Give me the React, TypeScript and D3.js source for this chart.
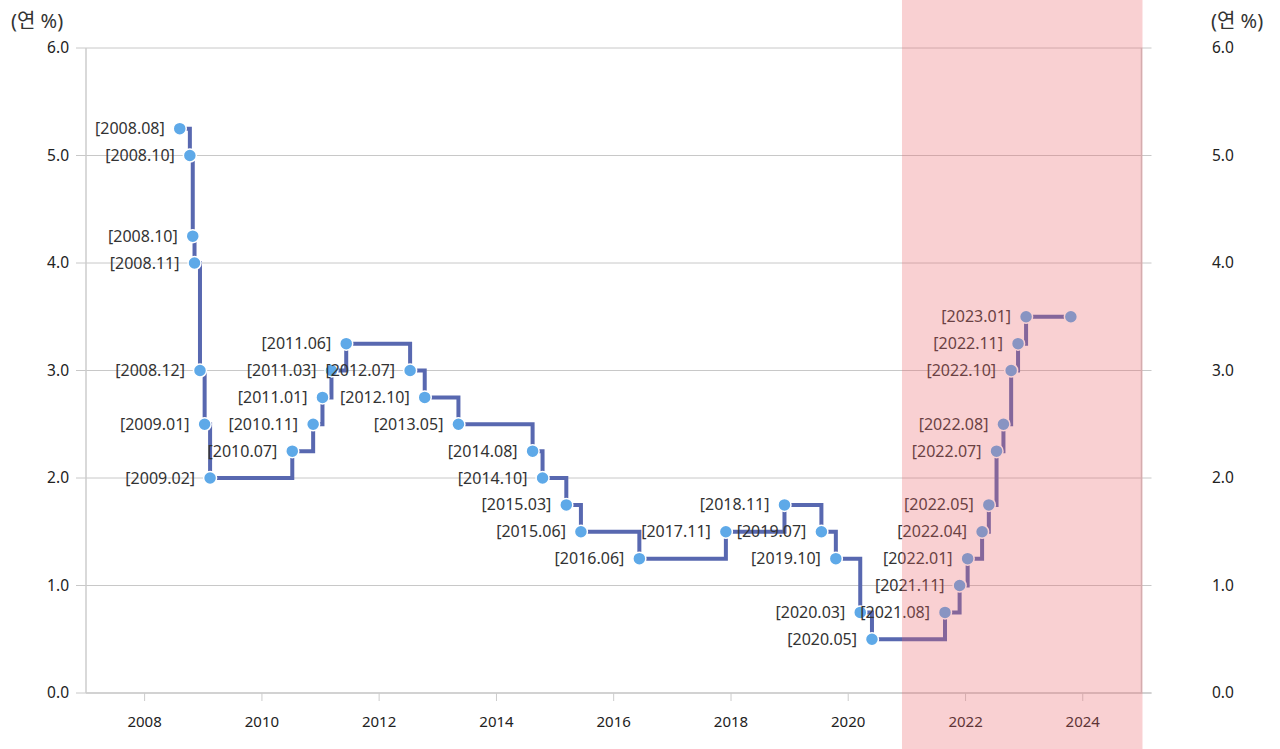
import React from "react"
import * as d3 from "d3"

// 기준금리 변경일 / 금리(연 %)
const changeDates = [
  "2008-08-07", "2008-10-09", "2008-10-27", "2008-11-07", "2008-12-11",
  "2009-01-09", "2009-02-12", "2010-07-09", "2010-11-16", "2011-01-13",
  "2011-03-10", "2011-06-10", "2012-07-12", "2012-10-11", "2013-05-09",
  "2014-08-14", "2014-10-15", "2015-03-12", "2015-06-11", "2016-06-09",
  "2017-11-30", "2018-11-30", "2019-07-18", "2019-10-16", "2020-03-16",
  "2020-05-28", "2021-08-26", "2021-11-25", "2022-01-14", "2022-04-14",
  "2022-05-26", "2022-07-13", "2022-08-25", "2022-10-12", "2022-11-24",
  "2023-01-13", "2023-10-19",
]
const rates = [
  5.25, 5.0, 4.25, 4.0, 3.0,
  2.5, 2.0, 2.25, 2.5, 2.75,
  3.0, 3.25, 3.0, 2.75, 2.5,
  2.25, 2.0, 1.75, 1.5, 1.25,
  1.5, 1.75, 1.5, 1.25, 0.75,
  0.5, 0.75, 1.0, 1.25, 1.5,
  1.75, 2.25, 2.5, 3.0, 3.25,
  3.5, 3.5,
]
const pointLabels = [
  "[2008.08]", "[2008.10]", "[2008.10]", "[2008.11]", "[2008.12]",
  "[2009.01]", "[2009.02]", "[2010.07]", "[2010.11]", "[2011.01]",
  "[2011.03]", "[2011.06]", "[2012.07]", "[2012.10]", "[2013.05]",
  "[2014.08]", "[2014.10]", "[2015.03]", "[2015.06]", "[2016.06]",
  "[2017.11]", "[2018.11]", "[2019.07]", "[2019.10]", "[2020.03]",
  "[2020.05]", "[2021.08]", "[2021.11]", "[2022.01]", "[2022.04]",
  "[2022.05]", "[2022.07]", "[2022.08]", "[2022.10]", "[2022.11]",
  "[2023.01]", "",
]
const yTicks = [0, 1, 2, 3, 4, 5, 6]
const xTickYears = [2008, 2010, 2012, 2014, 2016, 2018, 2020, 2022, 2024]
const shadeRange = ["2020-12-01", "2025-01-01"]
const unitLabel = "(연 %)"

const W = 1280
const H = 749
const margin = { top: 48, right: 138, bottom: 56, left: 86 }
const font = "'Noto Sans', 'Noto Sans CJK KR', sans-serif"

type Pt = { date: Date; rate: number; label: string }

export default function App() {
  const parse = d3.timeParse("%Y-%m-%d")
  const data: Pt[] = changeDates.map((d, i) => ({ date: parse(d)!, rate: rates[i], label: pointLabels[i] }))

  const x = d3
    .scaleTime()
    .domain([new Date(2007, 0, 1), new Date(2025, 0, 1)])
    .range([margin.left, W - margin.right - 0.5])
  const y = d3.scaleLinear().domain([0, 6]).range([H - margin.bottom, margin.top])

  const line = d3
    .line<Pt>()
    .x((d) => x(d.date))
    .y((d) => y(d.rate))
    .curve(d3.curveStepAfter)

  const x0 = x.range()[0]
  const x1 = x.range()[1]
  const shadeX0 = x(parse(shadeRange[0])!)
  const shadeX1 = x(parse(shadeRange[1])!)

  return (
    <svg
      width={W}
      height={H}
      style={{ position: "absolute", left: 0, top: 0, display: "block" }}
      fontFamily={font}
    >
      <rect width={W} height={H} fill="#fff" />

      {/* grid */}
      {yTicks.map((t) => (
        <line key={t} x1={x0 - 10} x2={x1 + 10} y1={y(t)} y2={y(t)} stroke="#c8c8c8" strokeWidth={1} />
      ))}
      <line x1={x0} x2={x0} y1={y(6)} y2={y(0)} stroke="#cccccc" strokeWidth={1.5} />
      <line x1={x1} x2={x1} y1={y(6)} y2={y(0)} stroke="#cccccc" strokeWidth={1.5} />
      <line x1={x0} x2={x1 + 10} y1={y(0)} y2={y(0)} stroke="#cccccc" strokeWidth={1.5} />

      {/* y tick labels */}
      {yTicks.map((t) => (
        <g key={t}>
          <text x={69} y={y(t)} dy="0.35em" textAnchor="end" fontSize={15.5} fill="#222">
            {t.toFixed(1)}
          </text>
          <text x={1212} y={y(t)} dy="0.35em" textAnchor="start" fontSize={15.5} fill="#222">
            {t.toFixed(1)}
          </text>
        </g>
      ))}
      <text x={11} y={21} dy="0.35em" fontSize={20} fill="#333">{unitLabel}</text>
      <text x={1211} y={21} dy="0.35em" fontSize={20} fill="#333">{unitLabel}</text>

      {/* x ticks */}
      {xTickYears.map((yr) => {
        const px = x(new Date(yr, 0, 1))
        return (
          <g key={yr}>
            <line x1={px} x2={px} y1={y(0)} y2={y(0) + 8} stroke="#cccccc" strokeWidth={1} />
            <text x={px} y={722} dy="0.35em" textAnchor="middle" fontSize={15} fill="#222">
              {yr}
            </text>
          </g>
        )
      })}

      {/* step line */}
      <path d={line(data) ?? ""} fill="none" stroke="#5868b0" strokeWidth={4} />

      {/* points */}
      {data.map((d, i) => (
        <circle key={i} cx={x(d.date)} cy={y(d.rate)} r={6.5} fill="#5ea9e8" stroke="#fff" strokeWidth={1.5} />
      ))}

      {/* labels */}
      {data.map((d, i) =>
        d.label ? (
          <text
            key={i}
            x={x(d.date) - 15}
            y={y(d.rate)}
            dy="0.35em"
            textAnchor="end"
            fontSize={16}
            fill="#333"
          >
            {d.label}
          </text>
        ) : null,
      )}

      {/* shaded period overlay */}
      <rect x={shadeX0} y={0} width={shadeX1 - shadeX0 + 1} height={H} fill="rgb(235,100,105)" fillOpacity={0.3} />
    </svg>
  )
}
